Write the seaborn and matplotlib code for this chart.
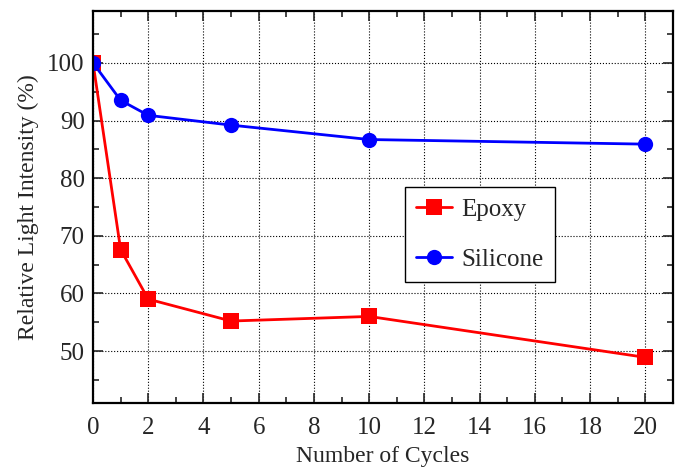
import matplotlib
matplotlib.use('Agg')
import matplotlib.pyplot as plt
import pandas as pd
import seaborn as sns
from matplotlib.ticker import MultipleLocator

# Data
cycles = [0, 1, 2, 5, 10, 20]
epoxy = [100, 67.6, 59.0, 55.2, 56.0, 48.9]
silicone = [100, 93.5, 90.9, 89.2, 86.7, 85.9]

df = pd.DataFrame({
    'cycles': cycles * 2,
    'value': epoxy + silicone,
    'material': ['Epoxy'] * len(cycles) + ['Silicone'] * len(cycles),
})

sns.set_style('ticks')
plt.rcParams['font.family'] = ['Liberation Serif', 'DejaVu Serif']

fig = plt.figure(figsize=(6.79, 4.69), dpi=100)
ax = fig.add_axes([0.137, 0.141, 0.854, 0.8355])

sns.lineplot(data=df, x='cycles', y='value', hue='material', style='material',
             palette={'Epoxy': 'red', 'Silicone': 'blue'},
             markers={'Epoxy': 's', 'Silicone': 'o'}, dashes=False,
             markersize=11, markeredgewidth=0, linewidth=2.0, ax=ax)

ax.set_xlim(0, 21)
ax.set_ylim(41, 109)
ax.xaxis.set_major_locator(MultipleLocator(2))
ax.xaxis.set_minor_locator(MultipleLocator(1))
ax.set_yticks([50, 60, 70, 80, 90, 100])
ax.yaxis.set_minor_locator(MultipleLocator(5))

ax.grid(True, which='major', color='black', linestyle=':', linewidth=0.8)
ax.tick_params(which='both', direction='in', top=True, right=True,
               labelsize=18, width=1.2)
ax.tick_params(axis='x', which='both', pad=10)
ax.tick_params(axis='y', which='both', pad=6)
ax.tick_params(which='major', length=7)
ax.tick_params(which='minor', length=4)
for sp in ax.spines.values():
    sp.set_linewidth(1.6)
    sp.set_color('black')

ax.set_xlabel('Number of Cycles', fontsize=17, labelpad=5)
ax.set_ylabel('Relative Light Intensity (%)', fontsize=17, labelpad=6)

leg = ax.legend(loc='upper left', bbox_to_anchor=(0.538, 0.55), fontsize=18,
                fancybox=False, edgecolor='black', framealpha=1,
                handlelength=1.45, handletextpad=0.35, borderpad=0.45,
                labelspacing=1.1, borderaxespad=0)
leg.get_frame().set_linewidth(1.0)

fig.savefig('out.png', dpi=100)
